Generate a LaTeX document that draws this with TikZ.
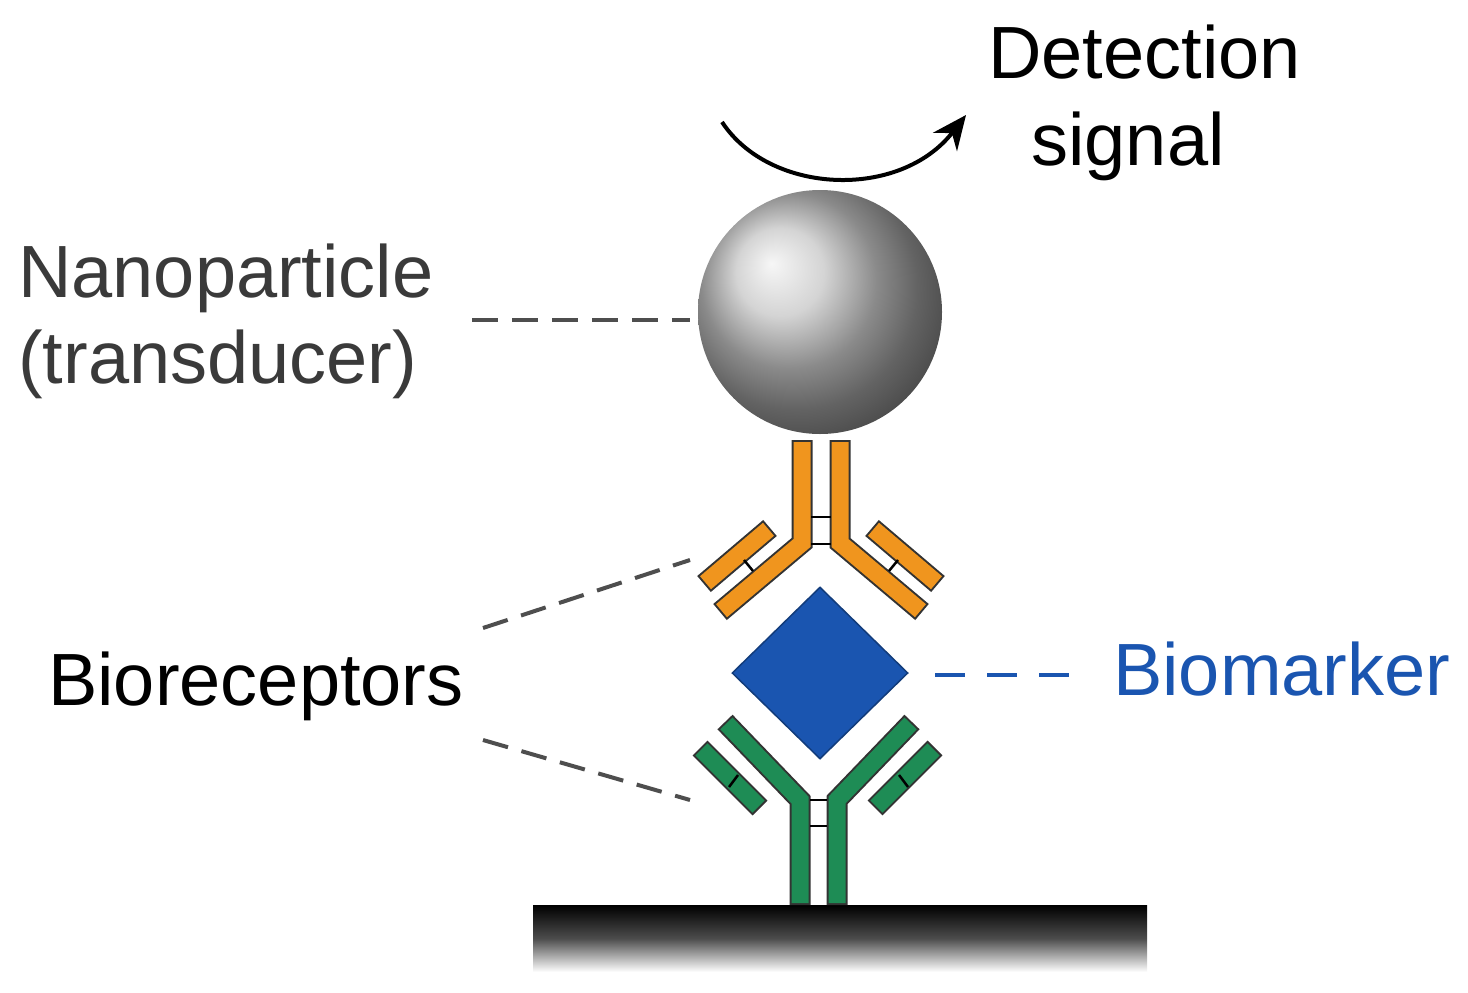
\documentclass[tikz,border=0pt]{standalone}
\usepackage{fontspec}
\setmainfont{Liberation Sans}
\usetikzlibrary{arrows.meta,shapes.geometric}
\definecolor{org}{HTML}{F0951E}
\definecolor{grn}{HTML}{1E8C55}
\definecolor{bm}{HTML}{1A55B0}
\definecolor{lab}{HTML}{3A3A3A}
\begin{document}
\begin{tikzpicture}[x=1pt,y=-1pt,
  lbl/.style={font=\fontsize{74}{82}\selectfont, inner sep=0pt},
  dsh/.style={dash pattern=on 26pt off 14pt, line width=4pt, color=lab!90},
  ch/.style={line width=21pt, black!80, line join=miter},
  chf/.style={line width=17pt, color=#1, line join=miter, shorten <=2pt, shorten >=2pt},
  hinge/.style={line width=2.5pt, black}]
\useasboundingbox (0,0) rectangle (1468,993);
\newcommand{\chainpath}[2]{\draw[ch] #1; \draw[chf=#2] #1;}
% base
\shade[top color=black, bottom color=white, middle color=black!70] (533,905) rectangle (1147,972);
\node[minimum width=614pt, minimum height=1pt, inner sep=0pt] (base) at (840,905) {};
% sphere
\shade[ball color=gray!45] (820,312) circle (122);
\node[circle, minimum size=244pt, inner sep=0pt] (np) at (820,312) {};
% diamond
\node[diamond, fill=bm, draw=bm!70!black, line width=1.5pt, minimum width=176pt, minimum height=172pt, inner sep=0pt, aspect=1] (bmk) at (820,673) {};
% orange antibody
\chainpath{(802,440) -- (802,543) -- (720,612)}{org}
\chainpath{(840,440) -- (840,543) -- (922,612)}{org}
\chainpath{(770,528) -- (704,584)}{org}
\chainpath{(872,528) -- (938,584)}{org}
\draw[hinge] (811,517) -- (831,517) (811,544) -- (831,544);
\draw[hinge] (744,560) -- (753,571) (898,560) -- (889,571);
% green antibody
\chainpath{(800,905) -- (800,800) -- (725,722)}{grn}
\chainpath{(837,905) -- (837,800) -- (912,722)}{grn}
\chainpath{(700,748) -- (760,808)}{grn}
\chainpath{(935,748) -- (875,808)}{grn}
\draw[hinge] (810,800) -- (827,800) (810,826) -- (827,826);
\draw[hinge] (738,775) -- (729,787) (899,775) -- (908,787);
\coordinate (ob) at (690,560);
\coordinate (gb) at (690,800);
\coordinate (nb) at (690,320);
% labels
\node[lbl, anchor=base west] (det) at (988,78) {Detection};
\node[lbl, anchor=base] (sig) at (1128,165) {signal};
\node[lbl, anchor=base west, text=lab] (nano) at (18,297) {Nanoparticle};
\node[lbl, anchor=base west, text=lab] (trans) at (18,383) {(transducer)};
\node[lbl, anchor=base west] (bio) at (48,705) {Bioreceptors};
\node[lbl, anchor=base west, text=bm] (bmt) at (1113,695) {Biomarker};
% connectors
\draw[dsh] (472,320) -- (nb);
\draw[dsh] (483,628) -- (ob);
\draw[dsh] (483,740) -- (gb);
\draw[dsh, color=bm, dash pattern=on 30pt off 22pt] (935,675) -- (1090,675);
\coordinate (as) at (722,122);
\coordinate (ae) at (966,115);
\draw[line width=4pt, -{Stealth[length=34pt,width=30pt]}] (as) .. controls (770,195) and (900,200) .. (ae);
\end{tikzpicture}
\end{document}
